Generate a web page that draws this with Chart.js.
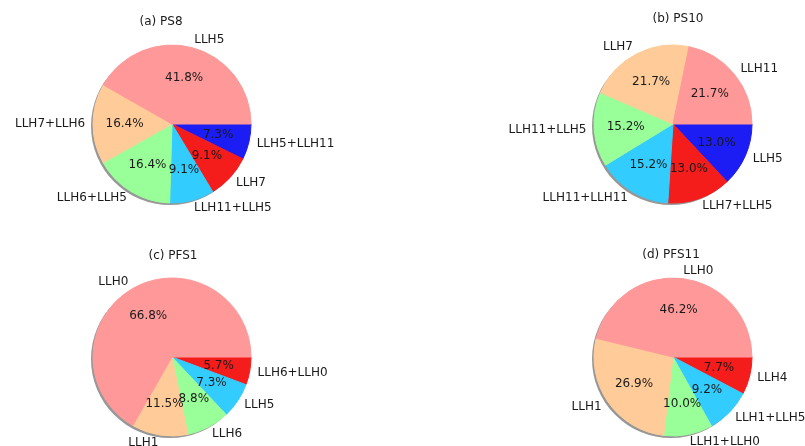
<!DOCTYPE html>
<html>
<head>
<meta charset="utf-8">
<script src="https://cdn.jsdelivr.net/npm/chart.js@4.4.1/dist/chart.umd.min.js"></script>
<style>
  body { margin: 0; background: #fff; }
  #grid { position: relative; width: 805px; height: 446px; overflow: hidden; }
  #grid canvas { position: absolute; }
</style>
</head>
<body>
<div id="grid">
  <canvas id="ps8" width="402" height="223" style="left:0;top:0"></canvas>
  <canvas id="ps10" width="403" height="223" style="left:402px;top:0"></canvas>
  <canvas id="pfs1" width="402" height="223" style="left:0;top:223px"></canvas>
  <canvas id="pfs11" width="403" height="223" style="left:402px;top:223px"></canvas>
</div>
<script>
const ps8Labels = ["LLH5", "LLH7+LLH6", "LLH6+LLH5", "LLH11+LLH5", "LLH7", "LLH5+LLH11"];
const ps8Values = [41.8, 16.4, 16.4, 9.1, 9.1, 7.3];

const ps10Labels = ["LLH11", "LLH7", "LLH11+LLH5", "LLH11+LLH11", "LLH7+LLH5", "LLH5"];
const ps10Values = [21.7, 21.7, 15.2, 15.2, 13.0, 13.0];

const pfs1Labels = ["LLH0", "LLH1", "LLH6", "LLH5", "LLH6+LLH0"];
const pfs1Values = [66.8, 11.5, 8.8, 7.3, 5.7];

const pfs11Labels = ["LLH0", "LLH1", "LLH1+LLH0", "LLH1+LLH5", "LLH4"];
const pfs11Values = [46.2, 26.9, 10.0, 9.2, 7.7];

const sliceColors = ["#ff9999", "#ffcc99", "#99ff99", "#33ccff", "#f51c1c", "#1c1cf5"];

const FONT = '12px "DejaVu Sans", sans-serif';
const TEXT_COLOR = "#1a1a1a";
const RADIUS = 79;

// gray offset disc under the pie, plus the percent / name / title texts
const pieDecor = {
  id: "pieDecor",
  beforeDatasetsDraw(chart) {
    const arc = chart.getDatasetMeta(0).data[0];
    if (!arc) return;
    const { x, y, outerRadius } = arc.getProps(["x", "y", "outerRadius"], true);
    const ctx = chart.ctx;
    ctx.save();
    ctx.fillStyle = "rgba(95,95,95,0.65)";
    ctx.beginPath();
    ctx.arc(x - 2, y + 2, outerRadius, 0, Math.PI * 2);
    ctx.fill();
    ctx.restore();
  },
  afterDatasetsDraw(chart, args, opts) {
    const ctx = chart.ctx;
    const meta = chart.getDatasetMeta(0);
    const values = chart.data.datasets[0].data;
    const names = chart.data.labels;
    ctx.save();
    ctx.font = FONT;
    ctx.fillStyle = TEXT_COLOR;
    ctx.textBaseline = "middle";
    let cx = 0, cy = 0;
    meta.data.forEach((arc, i) => {
      const p = arc.getProps(["x", "y", "startAngle", "endAngle", "outerRadius"], true);
      cx = p.x; cy = p.y;
      const mid = (p.startAngle + p.endAngle) / 2;
      const c = Math.cos(mid), s = Math.sin(mid);
      ctx.textAlign = c >= 0 ? "left" : "right";
      ctx.fillText(names[i], p.x + c * p.outerRadius * 1.1, p.y + s * p.outerRadius * 1.1);
      ctx.textAlign = "center";
      ctx.fillText(values[i].toFixed(1) + "%", p.x + c * p.outerRadius * 0.6, p.y + s * p.outerRadius * 0.6);
    });
    ctx.textAlign = "center";
    ctx.fillText(opts.text, cx + opts.dx, cy + opts.dy);
    ctx.restore();
  }
};

// slices run counter-clockwise from 3 o'clock, so feed them reversed
function makePie(id, labels, values, title, cx, cy, titleDx, titleDy) {
  const canvas = document.getElementById(id);
  const w = canvas.width, h = canvas.height;
  const side = RADIUS * 2 + 1;
  const colors = sliceColors.slice(0, values.length);
  return new Chart(canvas, {
    type: "pie",
    data: {
      labels: labels.slice().reverse(),
      datasets: [{
        data: values.slice().reverse(),
        backgroundColor: colors.slice().reverse(),
        borderColor: colors.slice().reverse(),
        borderWidth: 1
      }]
    },
    options: {
      responsive: false,
      animation: false,
      rotation: 90,
      layout: {
        padding: {
          left: cx - side / 2,
          top: cy - side / 2,
          right: w - cx - side / 2,
          bottom: h - cy - side / 2
        }
      },
      plugins: {
        legend: { display: false },
        tooltip: { enabled: false },
        title: { display: false },
        pieDecor: { text: title, dx: titleDx, dy: titleDy }
      }
    },
    plugins: [pieDecor]
  });
}

makePie("ps8", ps8Labels, ps8Values, "(a) PS8", 172, 124, -11, -102);
makePie("ps10", ps10Labels, ps10Values, "(b) PS10", 271, 124, 5, -105);
makePie("pfs1", pfs1Labels, pfs1Values, "(c) PFS1", 172, 134, 1, -101);
makePie("pfs11", pfs11Labels, pfs11Values, "(d) PFS11", 271, 134, -2, -102);
</script>
</body>
</html>
